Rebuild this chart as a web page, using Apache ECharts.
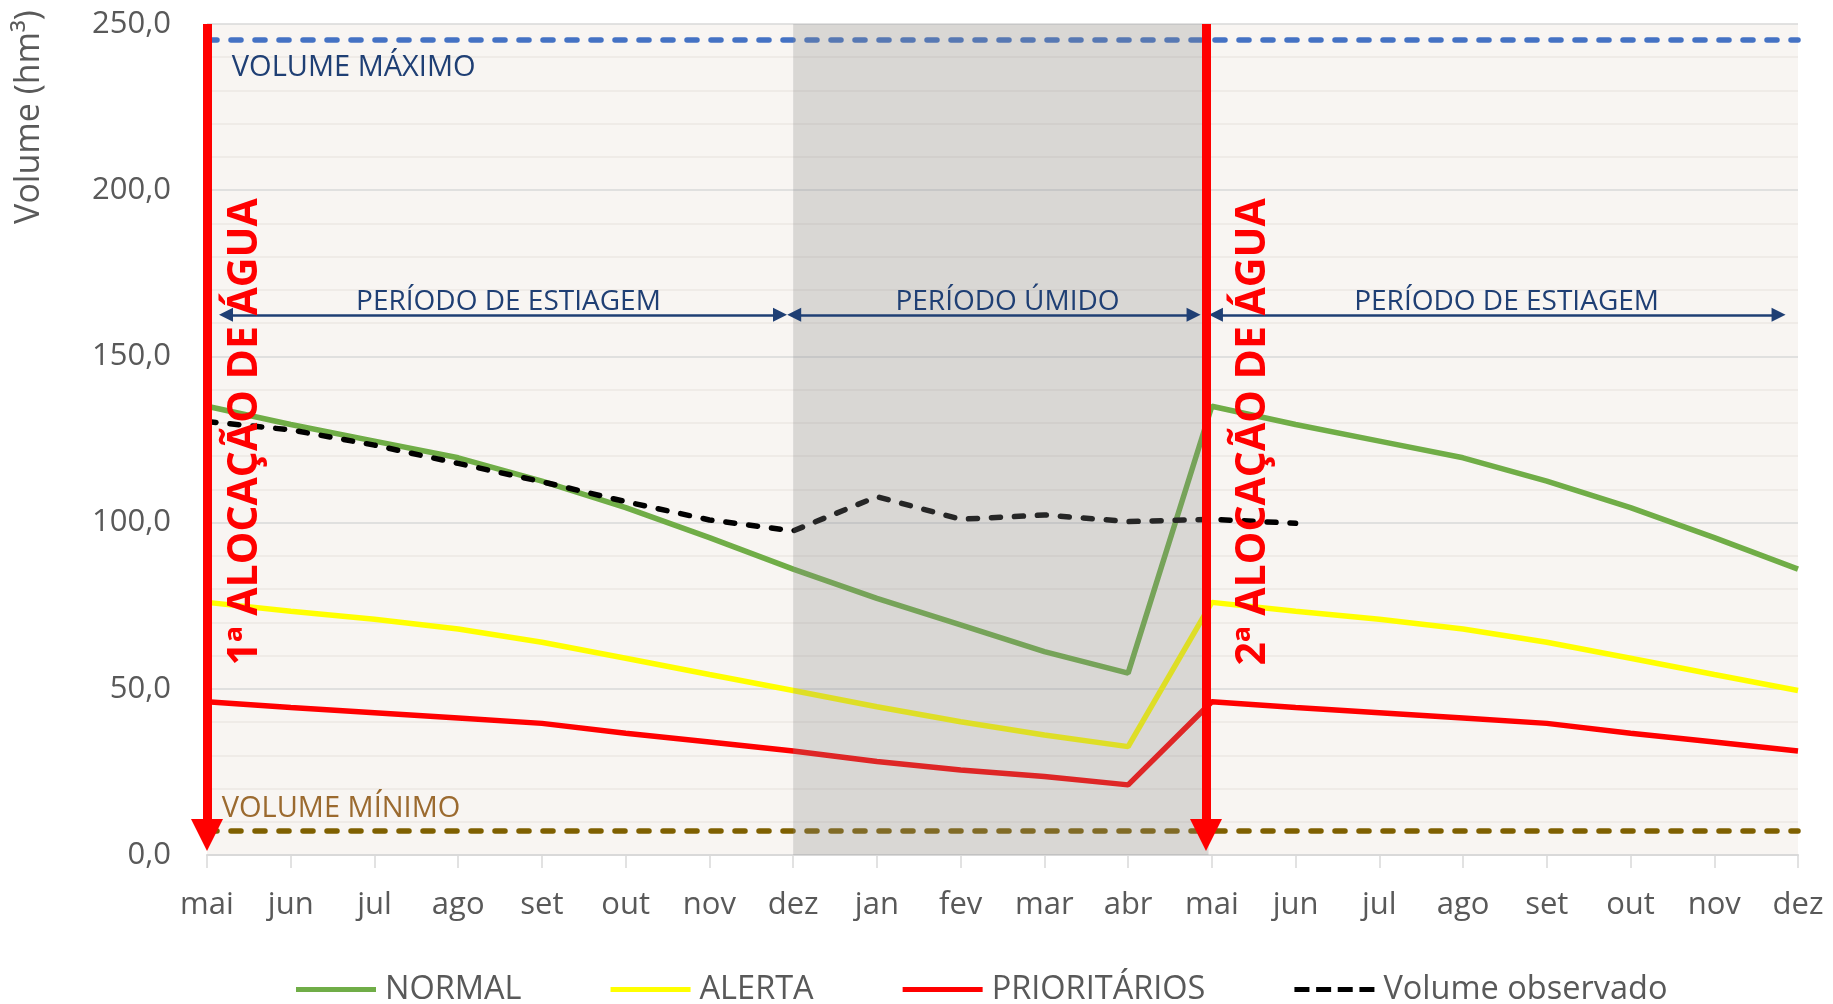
<!DOCTYPE html>
<html>
<head>
<meta charset="utf-8">
<script src="https://cdn.jsdelivr.net/npm/echarts@6/dist/echarts.min.js"></script>
<style>
  html, body { margin: 0; padding: 0; background: #fff; }
  #main { width: 1833px; height: 1004px; }
</style>
</head>
<body>
<div id="main"></div>
<script>
// meses (eixo x)
const months = ['mai', 'jun', 'jul', 'ago', 'set', 'out', 'nov', 'dez', 'jan', 'fev', 'mar', 'abr',
  'mai', 'jun', 'jul', 'ago', 'set', 'out', 'nov', 'dez']
// curvas de referência (hm³)
const normal = [135, 129.5, 124.5, 119.5, 112.5, 104.5, 95.5, 86, 77.2, 69.2, 61.2, 54.7,
  135, 129.5, 124.5, 119.5, 112.5, 104.5, 95.5, 86]
const alerta = [76, 73.3, 70.9, 68, 64, 59.2, 54.3, 49.5, 44.6, 40.1, 36.1, 32.6,
  76, 73.3, 70.9, 68, 64, 59.2, 54.3, 49.5]
const prioritarios = [46.1, 44.4, 42.8, 41.2, 39.6, 36.6, 34, 31.3, 28.1, 25.6, 23.6, 21.1,
  46.1, 44.4, 42.8, 41.2, 39.6, 36.6, 34, 31.3]
// volume observado (só até jun do 2º ano)
const observado = [130.4, 127.9, 123.3, 117.8, 112.3, 106.3, 100.8, 97.5, 107.8, 101, 102.3, 100.3,
  101, 99.8]
// limites do reservatório
const volumeMaximo = 245.3
const volumeMinimo = 7.2
// períodos (índices de mês)
const periodoUmido = [7, 11.96]
const alocacoes = [0, 11.93]

const FONT = "'Open Sans', 'Noto Sans', sans-serif"
const GREY = '#595959'
const NAVY = '#1f3f74'
// ícone tracejado da legenda
const DASH_ICON = 'path://M0,0h15v5h-15z M21.7,0h15v5h-15z M43.3,0h15v5h-15z M65,0h15v5h-15z'

const toPairs = arr => arr.map((v, i) => [i, v])
const fmt = v => v.toFixed(1).replace('.', ',')

let myChart = echarts.init(document.getElementById('main'))

// setas horizontais dos períodos
const periodArrow = (a, b) => [
  { coord: [a, 162.5] },
  { coord: [b, 162.5] },
]
// setas vermelhas de alocação
const allocArrow = x => [
  { coord: [x, 250], symbol: 'none', lineStyle: { color: '#ff0000', width: 9 } },
  { coord: [x, 6], symbol: 'triangle', symbolSize: 32, lineStyle: { color: '#ff0000', width: 9 } },
]
const textPoint = (x, y, text, label) => ({
  coord: [x, y],
  label: Object.assign({ show: true, formatter: text, fontFamily: FONT }, label),
})

myChart.setOption({
  animation: false,
  backgroundColor: '#ffffff',
  textStyle: { fontFamily: FONT },
  grid: {
    left: 207, right: 35, top: 24, bottom: 149,
    show: true, backgroundColor: '#f8f5f2', borderWidth: 0,
    outerBoundsMode: 'none',
  },
  legend: {
    data: [
      { name: 'NORMAL', icon: 'rect' },
      { name: 'ALERTA', icon: 'rect' },
      { name: 'PRIORITÁRIOS', icon: 'rect' },
      { name: 'Volume observado', icon: DASH_ICON },
    ],
    left: 296, top: 973,
    itemWidth: 80, itemHeight: 5, itemGap: 89, padding: 0,
    textStyle: { fontSize: 32.5, color: GREY, fontFamily: FONT, padding: [0, 0, 0, 4] },
  },
  graphic: [
    {
      type: 'text', x: 29, y: 117, rotation: Math.PI / 2,
      style: {
        text: 'Volume (hm³)', fontSize: 34, fontFamily: FONT, fill: GREY,
        align: 'center', verticalAlign: 'middle',
      },
    },
  ],
  xAxis: {
    type: 'value', min: 0, max: months.length - 1, interval: 1,
    axisLine: { show: true, lineStyle: { color: '#d9d9d9', width: 2 } },
    axisTick: { show: true, length: 13, lineStyle: { color: '#d9d9d9', width: 1.5 } },
    axisLabel: { formatter: v => months[v], fontSize: 31, color: GREY, margin: 35 },
    splitLine: { show: false },
  },
  yAxis: {
    type: 'value', min: 0, max: 250, interval: 50,
    axisLine: { show: false },
    axisTick: { show: false },
    axisLabel: { formatter: fmt, fontSize: 31, color: GREY, margin: 36 },
    splitLine: { lineStyle: { color: '#d9d9d9', width: 1.5 } },
    minorTick: { show: false, splitNumber: 5 },
    minorSplitLine: { show: true, lineStyle: { color: '#ebe7e3', width: 1.5 } },
  },
  series: [
    {
      name: 'NORMAL', type: 'line', data: toPairs(normal), symbol: 'none', z: 2,
      lineStyle: { color: '#70ad47', width: 5.5 }, itemStyle: { color: '#70ad47' },
    },
    {
      name: 'ALERTA', type: 'line', data: toPairs(alerta), symbol: 'none', z: 2,
      lineStyle: { color: '#ffff00', width: 5.5 }, itemStyle: { color: '#ffff00' },
    },
    {
      name: 'PRIORITÁRIOS', type: 'line', data: toPairs(prioritarios), symbol: 'none', z: 2,
      lineStyle: { color: '#ff0000', width: 5.5 }, itemStyle: { color: '#ff0000' },
    },
    {
      name: 'Volume observado', type: 'line', data: toPairs(observado), symbol: 'none', z: 2,
      lineStyle: { color: '#000000', width: 5.5, type: [9, 14], cap: 'round' },
      itemStyle: { color: '#000000' },
      markLine: {
        silent: true, symbol: 'none', label: { show: false },
        data: [
          { yAxis: volumeMaximo, lineStyle: { color: '#4472c4', width: 5.5, type: [10, 14], cap: 'round' } },
          { yAxis: volumeMinimo, lineStyle: { color: '#7f6000', width: 5.5, type: [10, 14], cap: 'round' } },
        ],
      },
    },
    {
      // sombreamento do período úmido (por cima das linhas)
      name: 'sombra', type: 'line', data: [], z: 6,
      markArea: {
        silent: true, z: 6,
        itemStyle: { color: 'rgba(137,137,137,0.28)' },
        data: [[{ xAxis: periodoUmido[0] }, { xAxis: periodoUmido[1] }]],
      },
    },
    {
      name: 'anotacoes', type: 'line', data: [], z: 10,
      markLine: {
        silent: true, z: 10, label: { show: false },
        symbol: ['triangle', 'triangle'], symbolSize: 14,
        lineStyle: { color: NAVY, width: 2.5, type: 'solid' },
        data: [
          periodArrow(0.227, 6.843),
          periodArrow(7.012, 11.782),
          periodArrow(12.049, 18.768),
          allocArrow(alocacoes[0]),
          allocArrow(alocacoes[1]),
        ],
      },
      markPoint: {
        silent: true, z: 11, symbol: 'circle', symbolSize: 1,
        itemStyle: { color: 'rgba(0,0,0,0)' },
        data: [
          textPoint(0.46, 127.3, '1ª ALOCAÇÃO DE ÁGUA',
            { position: 'inside', rotate: 90, fontSize: 41, fontWeight: 'bold', color: '#ff0000' }),
          textPoint(12.5, 127.3, '2ª ALOCAÇÃO DE ÁGUA',
            { position: 'inside', rotate: 90, fontSize: 41, fontWeight: 'bold', color: '#ff0000' }),
          textPoint(3.6, 166.3, 'PERÍODO DE ESTIAGEM',
            { position: 'inside', fontSize: 28, color: NAVY }),
          textPoint(9.56, 166.3, 'PERÍODO ÚMIDO',
            { position: 'inside', fontSize: 28, color: NAVY }),
          textPoint(15.52, 166.3, 'PERÍODO DE ESTIAGEM',
            { position: 'inside', fontSize: 28, color: NAVY }),
          textPoint(0.29, 236.9, 'VOLUME MÁXIMO',
            { position: 'right', distance: 0, fontSize: 29, color: NAVY }),
          textPoint(0.17, 14, 'VOLUME MÍNIMO',
            { position: 'right', distance: 0, fontSize: 29, color: '#9b6a2f' }),
        ],
      },
    },
  ],
})
</script>
</body>
</html>
